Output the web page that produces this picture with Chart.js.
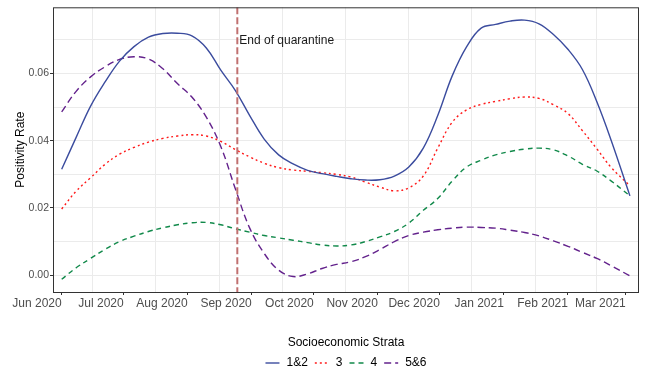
<!DOCTYPE html>
<html>
<head>
<meta charset="utf-8">
<script src="https://cdn.jsdelivr.net/npm/chart.js@4.4.1/dist/chart.umd.min.js"></script>
<style>
  html, body { margin: 0; padding: 0; background: #ffffff; }
  #wrap { width: 646px; height: 376px; }
</style>
</head>
<body>
<div id="wrap"><canvas id="chart" width="646" height="376"></canvas></div>
<script>
// Day offsets are counted from 1 June 2020.
const START = Date.UTC(2020, 5, 1);
const dayOf = iso => (Date.parse(iso + 'T00:00:00Z') - START) / 86400000;

// Month ticks on the time axis
const monthStarts = ['2020-06-01', '2020-07-01', '2020-08-01', '2020-09-01', '2020-10-01',
                     '2020-11-01', '2020-12-01', '2021-01-01', '2021-02-01', '2021-03-01'];
const monthLabels = ['Jun 2020', 'Jul 2020', 'Aug 2020', 'Sep 2020', 'Oct 2020',
                     'Nov 2020', 'Dec 2020', 'Jan 2021', 'Feb 2021', 'Mar 2021'];

// Smoothed positivity rate by socioeconomic stratum, sampled weekly
const sampleDays = [0, 7, 14, 21, 28, 35, 42, 49, 56, 63, 70, 77, 84, 91, 98, 105, 112, 119, 126, 133,
                    140, 147, 154, 161, 168, 175, 182, 189, 196, 203, 210, 217, 224, 231, 238, 245, 252, 259, 266, 275];

const strata12 = [0.0315, 0.0410, 0.0503, 0.0575, 0.0637, 0.0680, 0.0708, 0.0719, 0.0720, 0.0712,
                  0.0676, 0.0610, 0.0550, 0.0475, 0.0405, 0.0358, 0.0331, 0.0312, 0.0302, 0.0294,
                  0.0287, 0.0283, 0.0284, 0.0295, 0.0322, 0.0378, 0.0475, 0.0593, 0.0680, 0.0735,
                  0.0746, 0.0756, 0.0759, 0.0748, 0.0716, 0.0672, 0.0612, 0.0516, 0.0400, 0.0236];

const strata3 = [0.0197, 0.0250, 0.0290, 0.0330, 0.0360, 0.0380, 0.0396, 0.0407, 0.0414, 0.0418,
                 0.0414, 0.0398, 0.0374, 0.0352, 0.0333, 0.0320, 0.0313, 0.0309, 0.0305, 0.0300,
                 0.0292, 0.0277, 0.0262, 0.0251, 0.0260, 0.0295, 0.0378, 0.0455, 0.0492, 0.0508,
                 0.0517, 0.0525, 0.0530, 0.0526, 0.0507, 0.0481, 0.0430, 0.0376, 0.0320, 0.0266];

const strata4 = [-0.0012, 0.0022, 0.0050, 0.0077, 0.0100, 0.0116, 0.0130, 0.0141, 0.0150, 0.0156,
                 0.0157, 0.0150, 0.0138, 0.0128, 0.0118, 0.0111, 0.0104, 0.0097, 0.0090, 0.0087,
                 0.0090, 0.0100, 0.0114, 0.0130, 0.0155, 0.0193, 0.0228, 0.0280, 0.0322, 0.0342,
                 0.0358, 0.0368, 0.0375, 0.0378, 0.0373, 0.0355, 0.0330, 0.0310, 0.0280, 0.0236];

const strata56 = [0.0486, 0.0547, 0.0590, 0.0620, 0.0642, 0.0650, 0.0643, 0.0614, 0.0570, 0.0530,
                  0.0470, 0.0383, 0.0258, 0.0140, 0.0065, 0.0015, -0.0004, 0.0004, 0.0020, 0.0032,
                  0.0040, 0.0055, 0.0076, 0.0100, 0.0118, 0.0128, 0.0135, 0.0140, 0.0143, 0.0142,
                  0.0140, 0.0134, 0.0127, 0.0117, 0.0102, 0.0086, 0.0068, 0.0050, 0.0028, -0.0002];

const seriesNames = ['1&2', '3', '4', '5&6'];
const quarantineEnd = '2020-08-25';
const quarantineText = 'End of quarantine';
const legendTitle = 'Socioeconomic Strata';
const yTitle = 'Positivity Rate';
const yTickValues = [0, 0.01, 0.02, 0.03, 0.04, 0.05, 0.06, 0.07];

const FONT = '"Liberation Sans", Arial, Helvetica, sans-serif';
Chart.defaults.font.family = FONT;

const toPoints = vals => vals.map((v, i) => ({ x: sampleDays[i], y: v }));

const styles = [
  { color: '#3b4c9e', dash: [] },
  { color: '#ff1a1a', dash: [2, 3] },
  { color: '#11894a', dash: [5, 4] },
  { color: '#63228c', dash: [7, 4] }
];
const values = [strata12, strata3, strata4, strata56];

const datasets = values.map((vals, i) => ({
  label: seriesNames[i],
  data: toPoints(vals),
  borderColor: styles[i].color,
  borderDash: styles[i].dash,
  borderWidth: 1.4,
  pointRadius: 0,
  fill: false,
  tension: 0.4
}));

// month-start ticks carry labels; grid lines sit halfway between months
const monthDays = monthStarts.map(dayOf);
const midDays = monthDays.slice(1).map((d, i) => (d + monthDays[i]) / 2);

const overlay = {
  id: 'overlay',
  afterDatasetsDraw(chart) {
    const { ctx, chartArea: a, scales } = chart;
    const xq = scales.x.getPixelForValue(dayOf(quarantineEnd));
    ctx.save();
    ctx.beginPath();
    ctx.rect(a.left, a.top, a.right - a.left, a.bottom - a.top);
    ctx.clip();
    ctx.strokeStyle = '#c07070';
    ctx.lineWidth = 2;
    ctx.setLineDash([7, 3]);
    ctx.beginPath();
    ctx.moveTo(xq, a.top);
    ctx.lineTo(xq, a.bottom);
    ctx.stroke();
    ctx.restore();

    ctx.save();
    ctx.fillStyle = '#1a1a1a';
    ctx.font = '12px ' + FONT;
    ctx.textAlign = 'left';
    ctx.textBaseline = 'middle';
    ctx.fillText(quarantineText, xq + 2, scales.y.getPixelForValue(0.0698));
    // panel border
    ctx.strokeStyle = '#333333';
    ctx.lineWidth = 1;
    ctx.strokeRect(a.left + 0.5, a.top + 0.5, a.right - a.left - 1, a.bottom - a.top);
    ctx.restore();
  },
  afterDraw(chart) {
    const { ctx, chartArea: a } = chart;
    const cx = (a.left + a.right) / 2;
    ctx.save();
    ctx.font = '12px ' + FONT;
    ctx.fillStyle = '#000000';
    ctx.textBaseline = 'middle';
    ctx.textAlign = 'center';
    ctx.fillText(legendTitle, cx, 343);

    const keyW = 14, gapKey = 7, gapItem = 7;
    const widths = seriesNames.map(n => ctx.measureText(n).width);
    const total = widths.reduce((s, w) => s + w, 0) + seriesNames.length * (keyW + gapKey) + (seriesNames.length - 1) * gapItem;
    let x = cx - total / 2;
    const y = 363;
    ctx.textAlign = 'left';
    seriesNames.forEach((n, i) => {
      ctx.strokeStyle = styles[i].color;
      ctx.lineWidth = 1.4;
      ctx.setLineDash(styles[i].dash);
      ctx.beginPath();
      ctx.moveTo(x, y);
      ctx.lineTo(x + keyW, y);
      ctx.stroke();
      ctx.setLineDash([]);
      x += keyW + gapKey;
      ctx.fillStyle = '#000000';
      ctx.fillText(n, x, y);
      x += widths[i] + gapItem;
    });
    ctx.restore();
  }
};

new Chart(document.getElementById('chart'), {
  type: 'line',
  data: { datasets },
  plugins: [overlay],
  options: {
    responsive: false,
    animation: false,
    devicePixelRatio: 1,
    layout: { padding: { top: 4, right: 7, bottom: 0, left: 0 } },
    plugins: { legend: { display: false }, tooltip: { enabled: false } },
    scales: {
      x: {
        type: 'linear',
        min: -4.2,
        max: 279.4,
        afterBuildTicks(scale) {
          const all = monthDays.map(v => ({ value: v, major: true }))
            .concat(midDays.map(v => ({ value: v, major: false })));
          all.sort((p, q) => p.value - q.value);
          scale.ticks = all;
        },
        afterFit(scale) { scale.height = 84; },
        border: { display: false },
        grid: {
          color: ctx => (ctx.tick && !ctx.tick.major) ? '#ebebeb' : 'rgba(0,0,0,0)',
          lineWidth: 1,
          drawTicks: true,
          tickLength: 3,
          tickColor: ctx => (ctx.tick && ctx.tick.major) ? '#333333' : 'rgba(0,0,0,0)'
        },
        ticks: {
          autoSkip: false,
          maxRotation: 0,
          minRotation: 0,
          align: 'end',
          padding: 1,
          color: '#4d4d4d',
          font: { size: 12 },
          callback(value) {
            const k = monthDays.indexOf(value);
            return k >= 0 ? monthLabels[k] : '';
          }
        }
      },
      y: {
        type: 'linear',
        min: -0.005,
        max: 0.0797,
        afterBuildTicks(scale) {
          scale.ticks = yTickValues.map(v => ({ value: v }));
        },
        afterFit(scale) { scale.width = 53; },
        border: { display: false },
        grid: {
          color: '#ebebeb',
          lineWidth: 1,
          drawTicks: true,
          tickLength: 3,
          tickColor: ctx => (ctx.tick && Math.round(ctx.tick.value * 100) % 2 === 0) ? '#333333' : 'rgba(0,0,0,0)'
        },
        ticks: {
          padding: 1,
          color: '#4d4d4d',
          font: { size: 10.5 },
          callback(value) {
            return Math.round(value * 100) % 2 === 0 ? value.toFixed(2) : '';
          }
        },
        title: {
          display: true,
          text: yTitle,
          color: '#000000',
          font: { size: 12 },
          padding: { top: 13, bottom: 0 }
        }
      }
    }
  }
});
</script>
</body>
</html>
